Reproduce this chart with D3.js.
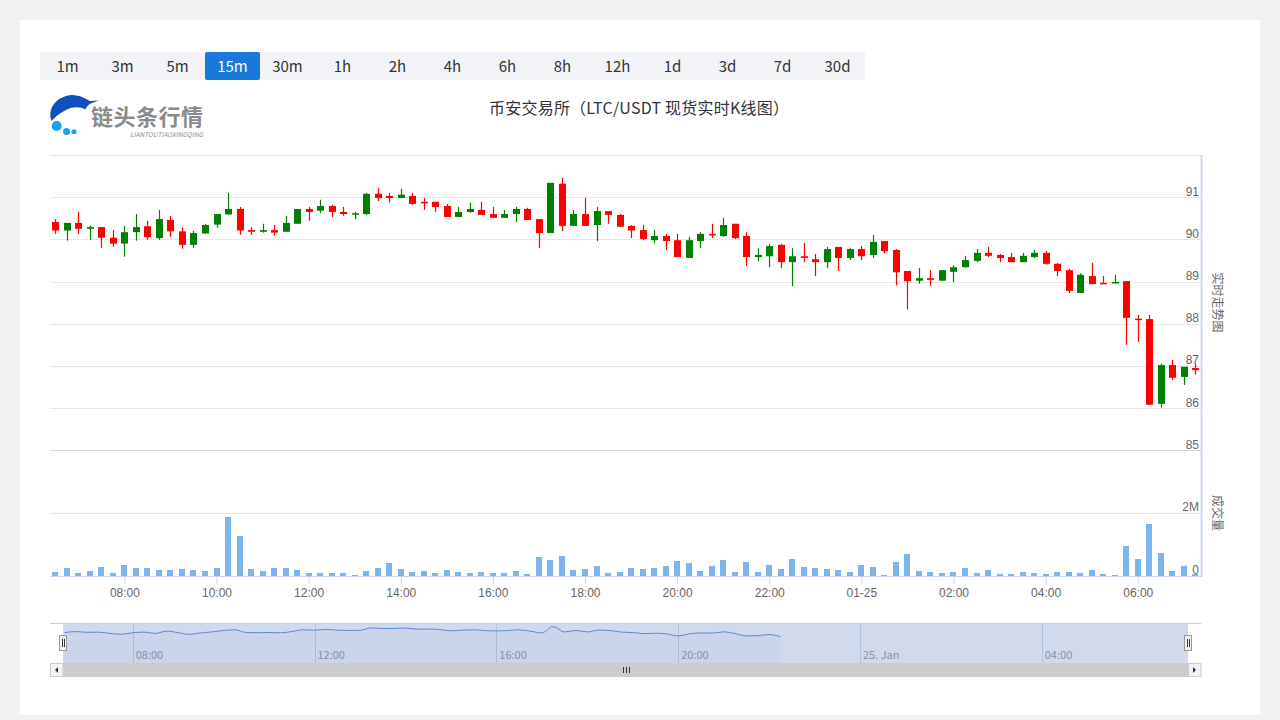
<!DOCTYPE html>
<html>
<head>
<meta charset="utf-8">
<script src="https://cdn.jsdelivr.net/npm/d3@7"></script>
<style>
body { margin: 0; background: #f2f2f2; }
svg { display: block; font-family: "Noto Sans CJK SC", "Noto Sans", sans-serif; }
</style>
</head>
<body>
<div class="graphic"></div>
<script>
// period buttons
var periods = ["1m", "3m", "5m", "15m", "30m", "1h", "2h", "4h", "6h", "8h", "12h", "1d", "3d", "7d", "30d"];
var activePeriod = "15m";
var chartTitle = "币安交易所（LTC/USDT 现货实时K线图）";

// 15 minute candles, first one at 2023-01-24 06:30
var startTime = Date.UTC(2023, 0, 24, 6, 30);
var stepMinutes = 15;

var openPrices = [90.41,90.21,90.39,90.25,90.29,90.04,89.90,90.17,90.31,90.03,
	90.46,90.19,89.87,90.14,90.35,90.59,90.72,90.22,90.18,90.22,
	90.18,90.37,90.72,90.68,90.79,90.65,90.61,90.60,91.08,91.03,
	90.98,91.03,90.89,90.89,90.79,90.53,90.65,90.70,90.60,90.51,
	90.60,90.72,90.48,90.15,91.32,90.32,90.60,90.34,90.67,90.58,
	90.32,90.22,89.98,90.08,89.98,89.56,89.96,90.13,90.08,90.37,
	90.08,89.58,89.60,89.87,89.46,89.60,89.53,89.46,89.82,89.56,
	89.77,89.63,89.96,89.75,89.25,89.02,89.08,89.02,89.23,89.34,
	89.49,89.68,89.63,89.58,89.46,89.58,89.68,89.42,89.27,88.73,
	89.13,88.97,88.96,89.01,88.12,88.11,86.10,87.02,86.74,86.95];
var highPrices = [90.48,90.39,90.65,90.33,90.29,90.22,90.32,90.60,90.44,90.70,
	90.56,90.28,90.20,90.37,90.60,91.10,90.77,90.29,90.37,90.34,
	90.56,90.72,90.77,90.94,90.82,90.77,90.65,91.10,91.22,91.10,
	91.20,91.10,90.98,90.89,90.84,90.77,90.87,90.89,90.77,90.70,
	90.77,90.75,90.48,91.34,91.46,90.70,90.98,90.77,90.67,90.60,
	90.34,90.34,90.22,90.13,90.13,90.06,90.17,90.37,90.51,90.37,
	90.17,89.79,89.89,89.89,89.79,89.91,89.65,89.82,89.82,89.79,
	89.84,90.10,89.96,89.77,89.25,89.32,89.27,89.27,89.39,89.61,
	89.77,89.82,89.65,89.68,89.68,89.75,89.72,89.44,89.30,89.20,
	89.44,89.13,89.16,89.01,88.21,88.21,87.05,87.14,86.98,87.05];
var lowPrices = [90.13,89.97,90.13,89.99,89.80,89.83,89.59,89.97,89.99,89.99,
	90.06,89.78,89.80,90.13,90.28,90.59,90.11,90.11,90.16,90.09,
	90.18,90.37,90.44,90.63,90.53,90.56,90.48,90.58,90.91,90.87,
	90.98,90.82,90.70,90.65,90.53,90.53,90.63,90.58,90.51,90.51,
	90.41,90.46,89.79,90.15,90.20,90.32,90.32,89.96,90.37,90.29,
	90.03,89.98,89.91,89.75,89.58,89.56,89.79,90.03,90.06,90.01,
	89.37,89.48,89.34,89.32,88.89,89.46,89.13,89.32,89.25,89.51,
	89.51,89.56,89.67,88.91,88.34,88.95,88.90,89.02,88.99,89.33,
	89.46,89.58,89.46,89.46,89.46,89.56,89.40,89.13,88.73,88.73,
	88.94,88.96,88.96,87.50,87.57,86.08,86.01,86.67,86.55,86.79];
var closePrices = [90.21,90.39,90.25,90.29,90.04,89.90,90.17,90.29,90.05,90.48,
	90.19,89.87,90.15,90.34,90.60,90.72,90.21,90.18,90.22,90.16,
	90.39,90.72,90.65,90.79,90.65,90.60,90.62,91.08,90.98,90.98,
	91.06,90.84,90.87,90.77,90.53,90.65,90.72,90.58,90.51,90.60,
	90.72,90.46,90.15,91.34,90.32,90.60,90.32,90.67,90.58,90.30,
	90.21,90.01,90.08,89.96,89.58,89.98,90.13,90.11,90.34,90.03,
	89.58,89.63,89.84,89.46,89.60,89.56,89.46,89.77,89.56,89.77,
	89.60,89.94,89.72,89.22,89.01,89.08,89.04,89.27,89.34,89.51,
	89.68,89.61,89.56,89.46,89.61,89.68,89.42,89.25,88.78,89.16,
	88.94,88.96,88.99,88.14,88.10,86.08,87.02,86.72,86.98,86.90];
// volume in millions
var volumes = [0.13,0.26,0.10,0.15,0.29,0.10,0.34,0.26,0.24,0.18,
	0.18,0.22,0.20,0.16,0.26,1.88,1.26,0.21,0.16,0.26,
	0.24,0.20,0.09,0.10,0.10,0.10,0.03,0.15,0.26,0.40,
	0.21,0.14,0.16,0.09,0.19,0.13,0.09,0.13,0.10,0.09,
	0.16,0.06,0.60,0.50,0.64,0.20,0.21,0.32,0.10,0.13,
	0.24,0.21,0.26,0.31,0.48,0.41,0.15,0.31,0.50,0.13,
	0.45,0.13,0.34,0.22,0.54,0.29,0.26,0.22,0.19,0.13,
	0.34,0.29,0.04,0.43,0.69,0.16,0.13,0.10,0.13,0.24,
	0.10,0.19,0.05,0.05,0.13,0.10,0.07,0.13,0.13,0.11,
	0.19,0.06,0.04,0.96,0.54,1.64,0.73,0.17,0.31,0.06];
// the navigator line in the picture only covers the first candles
var navigatorCount = 64;

var priceTicks = [85, 86, 87, 88, 89, 90, 91];
var priceGrid = [85, 86, 87, 88, 89, 90, 91, 92];
var volumeTicks = [0, 2];
var volumeLabels = ["0", "2M"];

var upColor = "#008000";
var downColor = "#ff0000";

var width = 1280;
var height = 720;
var svg = d3.select("div.graphic").append("svg")
	.attr("width", width)
	.attr("height", height);

var candles = openPrices.map(function(o, i) {
	return {
		t: new Date(startTime + i * stepMinutes * 60000),
		o: o, h: highPrices[i], l: lowPrices[i], c: closePrices[i], v: volumes[i]
	};
});

// card
svg.append("rect").attr("x", 20).attr("y", 20).attr("width", 1240).attr("height", 695).attr("fill", "#fff");

// buttons
var btnW = 55;
var buttons = svg.append("g").attr("transform", "translate(40,52)");
buttons.append("rect").attr("width", btnW * periods.length).attr("height", 28).attr("fill", "#f1f3f6");
buttons.selectAll("rect.active")
	.data(periods.filter(function(p) { return p == activePeriod; }))
	.enter().append("rect")
	.attr("class", "active")
	.attr("x", function(p) { return periods.indexOf(p) * btnW; })
	.attr("width", btnW).attr("height", 28).attr("rx", 2)
	.attr("fill", "#1a78d8");
buttons.selectAll("text")
	.data(periods)
	.enter().append("text")
	.attr("x", function(p, i) { return i * btnW + btnW / 2; })
	.attr("y", 19.5)
	.attr("text-anchor", "middle")
	.attr("font-size", 15)
	.attr("fill", function(p) { return p == activePeriod ? "#fff" : "#333"; })
	.text(function(p) { return p; });

// logo
var logo = svg.append("g");
logo.append("path")
	.attr("d", "M51.5 121 C47 108 57 96 72 95 C80 95 86 99 90 101 L98.5 100.5 L91 103.5 C88 104.5 86.5 107 85.5 109.5 C80 106 71 106.5 65 110.5 C59 114 55 117 51.5 121 Z")
	.attr("fill", "#0f4fbf");
logo.selectAll("circle")
	.data([[56.7, 126, 5], [66.5, 131.5, 3.5], [74, 131.7, 2.5]])
	.enter().append("circle")
	.attr("cx", function(d) { return d[0]; })
	.attr("cy", function(d) { return d[1]; })
	.attr("r", function(d) { return d[2]; })
	.attr("fill", "#18a0f2");
logo.append("text").attr("x", 91).attr("y", 124.5).attr("font-size", 22).attr("font-weight", "bold")
	.attr("fill", "#8a8a8a").attr("textLength", 112).text("链头条行情");
logo.append("text").attr("x", 130).attr("y", 136.5).attr("font-size", 6.5).attr("font-style", "italic")
	.attr("fill", "#8a8a8a").attr("textLength", 73).text("LIANTOUTIAOXINGQING");

svg.append("text").attr("x", 489).attr("y", 114)
	.attr("font-size", 16).attr("fill", "#333")
	.attr("textLength", 300).attr("lengthAdjust", "spacing")
	.text(chartTitle);

// scales
var plotLeft = 50, plotRight = 1201;
var x = d3.scaleUtc()
	.domain([candles[0].t, candles[candles.length - 1].t])
	.range([55.3, 1195.3]);
var y = d3.scaleLinear().domain([85, 92]).range([450.3, 155]);
var yv = d3.scaleLinear().domain([0, 4]).range([576, 450]);

// grid
var grid = svg.append("g");
grid.selectAll("line.price")
	.data(priceGrid)
	.enter().append("line")
	.attr("class", "price")
	.attr("x1", plotLeft).attr("x2", plotRight)
	.attr("y1", function(d) { return Math.round(y(d)) + 0.5; })
	.attr("y2", function(d) { return Math.round(y(d)) + 0.5; })
	.attr("stroke", function(d) { return d == 85 ? "#d8d8d8" : "#e6e6e6"; });
grid.selectAll("line.vol")
	.data(volumeTicks.filter(function(d) { return d > 0; }))
	.enter().append("line")
	.attr("class", "vol")
	.attr("x1", plotLeft).attr("x2", plotRight)
	.attr("y1", function(d) { return Math.round(yv(d)) + 0.5; })
	.attr("y2", function(d) { return Math.round(yv(d)) + 0.5; })
	.attr("stroke", "#e6e6e6");

// volume columns
svg.append("g").selectAll("rect")
	.data(candles)
	.enter().append("rect")
	.attr("x", function(d) { return Math.round(x(d.t) - 3); })
	.attr("y", function(d) { return Math.round(yv(d.v)); })
	.attr("width", 6)
	.attr("height", function(d) { return 576 - Math.round(yv(d.v)); })
	.attr("fill", "#7cb5ec");

// candles
var candleG = svg.append("g");
candleG.selectAll("line")
	.data(candles)
	.enter().append("line")
	.attr("x1", function(d) { return Math.round(x(d.t)) + 0.5; })
	.attr("x2", function(d) { return Math.round(x(d.t)) + 0.5; })
	.attr("y1", function(d) { return y(d.h); })
	.attr("y2", function(d) { return y(d.l); })
	.attr("stroke", function(d) { return d.c >= d.o ? upColor : downColor; })
	.attr("stroke-width", 1.2);
candleG.selectAll("rect")
	.data(candles)
	.enter().append("rect")
	.attr("x", function(d) { return Math.round(x(d.t)) - 3; })
	.attr("y", function(d) { return y(Math.max(d.o, d.c)); })
	.attr("width", 7)
	.attr("height", function(d) { return Math.max(1.5, Math.abs(y(d.o) - y(d.c))); })
	.attr("fill", function(d) { return d.c >= d.o ? upColor : downColor; });

// x axis
function timeLabel(d) {
	return d.getUTCHours() == 0 ? d3.utcFormat("%m-%d")(d) : d3.utcFormat("%H:%M")(d);
}
var xAxis = svg.append("g")
	.attr("transform", "translate(0,576)")
	.call(d3.axisBottom(x).ticks(d3.utcHour.every(2)).tickSize(8).tickPadding(4).tickFormat(timeLabel));
xAxis.select(".domain").remove();
xAxis.selectAll(".tick line").attr("stroke", "#ccd6eb");
xAxis.selectAll("text").attr("fill", "#666").attr("font-size", 12);
svg.append("line").attr("x1", plotLeft).attr("x2", plotRight).attr("y1", 576.5).attr("y2", 576.5).attr("stroke", "#ccd6eb");

// right axes
var priceAxis = svg.append("g")
	.attr("transform", "translate(1199,0)")
	.call(d3.axisLeft(y).tickValues(priceTicks).tickSize(0).tickPadding(0).tickFormat(d3.format("d")));
priceAxis.select(".domain").remove();
priceAxis.selectAll("text").attr("fill", "#666").attr("font-size", 12).attr("dy", "-0.17em");
var volAxis = svg.append("g")
	.attr("transform", "translate(1199,0)")
	.call(d3.axisLeft(yv).tickValues(volumeTicks).tickSize(0).tickPadding(0)
		.tickFormat(function(d, i) { return volumeLabels[i]; }));
volAxis.select(".domain").remove();
volAxis.selectAll("text").attr("fill", "#666").attr("font-size", 12).attr("dy", "-0.17em");
svg.append("line").attr("x1", 1201.5).attr("x2", 1201.5).attr("y1", 155).attr("y2", 577)
	.attr("stroke", "#ccd6eb").attr("stroke-width", 2);

[["实时走势图", (155 + 450) / 2], ["成交量", (450 + 576) / 2]].forEach(function(t) {
	svg.append("text")
		.attr("transform", "translate(1217," + t[1] + ") rotate(90)")
		.attr("text-anchor", "middle").attr("dy", "0.35em")
		.attr("font-size", 12).attr("fill", "#666")
		.text(t[0]);
});

// navigator
var navTop = 623, navBottom = 663;
var xn = d3.scaleUtc()
	.domain([candles[0].t, candles[candles.length - 1].t])
	.range([64.5, 1189.5]);
var yn = d3.scaleLinear().domain([84.5, 92]).range([navBottom, navTop]);
var nav = svg.append("g");
var navTicks = xn.ticks(d3.utcHour.every(4));
nav.selectAll("line.grid")
	.data(navTicks)
	.enter().append("line")
	.attr("class", "grid")
	.attr("x1", function(d) { return Math.round(xn(d)) + 0.5; })
	.attr("x2", function(d) { return Math.round(xn(d)) + 0.5; })
	.attr("y1", navTop).attr("y2", navBottom)
	.attr("stroke", "#d6dbe6");
nav.selectAll("text")
	.data(navTicks)
	.enter().append("text")
	.attr("x", function(d) { return xn(d) + 3; })
	.attr("y", 659)
	.attr("font-size", 11)
	.attr("fill", "#999")
	.text(function(d) { return d.getUTCHours() == 0 ? d3.utcFormat("%d. %b")(d) : d3.utcFormat("%H:%M")(d); });
var navData = candles.slice(0, navigatorCount);
nav.append("path")
	.datum(navData)
	.attr("d", d3.area().curve(d3.curveMonotoneX)
		.x(function(d) { return xn(d.t); })
		.y0(navBottom)
		.y1(function(d) { return yn(d.c); }))
	.attr("fill", "#335cad").attr("fill-opacity", 0.05);
nav.append("path")
	.datum(navData)
	.attr("d", d3.line().curve(d3.curveMonotoneX)
		.x(function(d) { return xn(d.t); })
		.y(function(d) { return yn(d.c); }))
	.attr("fill", "none").attr("stroke", "#5b8fd9").attr("stroke-width", 1);
var maskLeft = 63, maskRight = 1188;
nav.append("rect").attr("x", maskLeft).attr("y", navTop).attr("width", maskRight - maskLeft).attr("height", navBottom - navTop)
	.attr("fill", "#6685c2").attr("fill-opacity", 0.3);
nav.append("line").attr("x1", plotLeft).attr("x2", plotRight).attr("y1", navTop + 0.5).attr("y2", navTop + 0.5).attr("stroke", "#cccccc");

// scrollbar
var sb = svg.append("g");
sb.append("rect").attr("x", plotLeft).attr("y", navBottom).attr("width", plotRight - plotLeft).attr("height", 14).attr("fill", "#f2f2f2");
sb.append("rect").attr("x", maskLeft).attr("y", navBottom).attr("width", maskRight - maskLeft).attr("height", 14).attr("fill", "#cccccc");
[[plotLeft, -1], [maskRight, 1]].forEach(function(b) {
	sb.append("rect").attr("x", b[0] + 0.5).attr("y", navBottom + 0.5).attr("width", 12.5).attr("height", 13)
		.attr("fill", "#f2f2f2").attr("stroke", "#cccccc");
	var cx = b[0] + 6.5, cy = navBottom + 7;
	sb.append("path")
		.attr("d", "M" + (cx - 1.5 * b[1]) + " " + (cy - 3) + " L" + (cx + 1.5 * b[1]) + " " + cy + " L" + (cx - 1.5 * b[1]) + " " + (cy + 3) + " Z")
		.attr("fill", "#333");
});
[-3, 0, 3].forEach(function(o) {
	sb.append("line").attr("x1", 626.5 + o).attr("x2", 626.5 + o).attr("y1", 667).attr("y2", 673)
		.attr("stroke", "#333");
});

// handles
[maskLeft, maskRight].forEach(function(hx) {
	var g = svg.append("g").attr("transform", "translate(" + Math.round(hx) + ",0)");
	g.append("rect").attr("x", -3.5).attr("y", 635.5).attr("width", 7).attr("height", 15)
		.attr("fill", "#f2f2f2").attr("stroke", "#999");
	[-1, 1].forEach(function(o) {
		g.append("line").attr("x1", o + 0.5).attr("x2", o + 0.5).attr("y1", 639).attr("y2", 647).attr("stroke", "#333");
	});
});
</script>
</body>
</html>
